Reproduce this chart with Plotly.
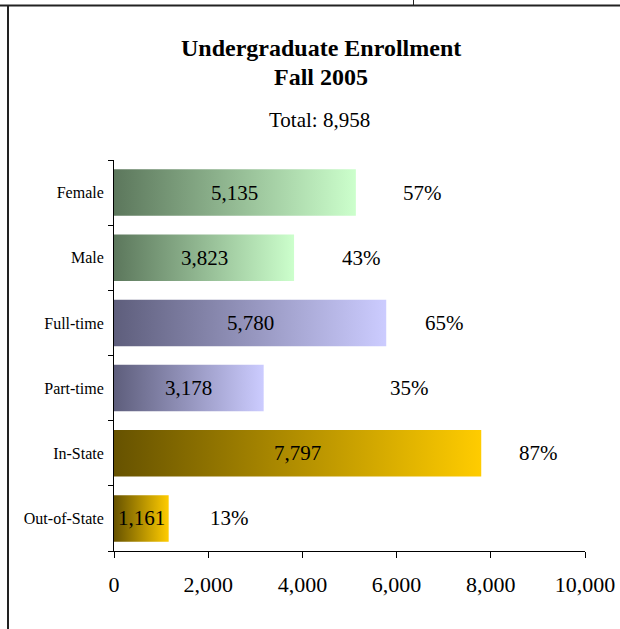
import plotly.graph_objects as go

categories = ["Female", "Male", "Full-time", "Part-time", "In-State", "Out-of-State"]
values = [5135, 3823, 5780, 3178, 7797, 1161]
percent_labels = ["57%", "43%", "65%", "35%", "87%", "13%"]
total = 8958
x_ticks = [0, 2000, 4000, 6000, 8000, 10000]

# layout-only: where the percent labels sit (data units along x)
pct_label_x = [6560, 5250, 7010, 6270, 9020, 2460]
dark_colors = ["#5c775c", "#5c775c", "#5e5e7c", "#5e5e7c", "#665200", "#665200"]
light_colors = ["#ccffcc", "#ccffcc", "#ccccff", "#ccccff", "#ffcc00", "#ffcc00"]

FONT = "Liberation Serif, Times New Roman, serif"
half = 0.357

fig = go.Figure()
for i, (cat, v) in enumerate(zip(categories, values)):
    fig.add_trace(go.Scatter(
        x=[0, v, v, 0, 0],
        y=[i - half, i - half, i + half, i + half, i - half],
        mode="lines",
        line=dict(width=0),
        fill="toself",
        fillgradient=dict(type="horizontal",
                          colorscale=[[0, dark_colors[i]], [1, light_colors[i]]]),
        name=cat,
        showlegend=False,
        hoverinfo="skip",
    ))

annotations = []
for i, v in enumerate(values):
    annotations.append(dict(x=v / 2, y=i, xref="x", yref="y", text=f"{v:,}",
                            showarrow=False, font=dict(family=FONT, size=21, color="black")))
    annotations.append(dict(x=pct_label_x[i], y=i, xref="x", yref="y", text=percent_labels[i],
                            showarrow=False, font=dict(family=FONT, size=21, color="black")))

L, R, T, B = 114, 35, 160, 78
W, H = 620, 629
pw, ph = W - L - R, H - T - B

def px(xp):
    return (xp - L) / pw

def py(yp):
    return (H - B - yp) / ph

annotations += [
    dict(x=px(320.5), y=py(48), xref="paper", yref="paper", text="<b>Undergraduate Enrollment</b>",
         showarrow=False, yanchor="middle", font=dict(family=FONT, size=24, color="black")),
    dict(x=px(320.5), y=py(77), xref="paper", yref="paper", text="<b>Fall 2005</b>",
         showarrow=False, yanchor="middle", font=dict(family=FONT, size=24, color="black")),
    dict(x=px(319), y=py(120), xref="paper", yref="paper", text=f"Total: {total:,}",
         showarrow=False, yanchor="middle", font=dict(family=FONT, size=21, color="black")),
]

shapes = [
    dict(type="line", xref="paper", yref="paper", x0=px(0), x1=px(620), y0=py(5.5), y1=py(5.5),
         line=dict(color="#222222", width=2)),
    dict(type="line", xref="paper", yref="paper", x0=px(8), x1=px(8), y0=py(5), y1=py(629),
         line=dict(color="#222222", width=2)),
    dict(type="line", xref="paper", yref="paper", x0=px(413.5), x1=px(413.5), y0=py(0), y1=py(5),
         line=dict(color="#222222", width=1)),
]

fig.update_layout(
    width=W, height=H,
    margin=dict(l=L, r=R, t=T, b=B, autoexpand=False),
    paper_bgcolor="white", plot_bgcolor="white",
    annotations=annotations,
    shapes=shapes,
    xaxis=dict(
        range=[0, 10000], tickvals=x_ticks, ticktext=[f"{t:,}" for t in x_ticks],
        showgrid=False, zeroline=False, showline=True, linecolor="black", linewidth=1,
        ticks="outside", ticklen=6, tickcolor="black", ticklabelstandoff=8, automargin=False,
        tickfont=dict(family=FONT, size=22, color="black"),
    ),
    yaxis=dict(
        range=[5.5, -0.5], tickvals=list(range(len(categories))), ticktext=categories,
        showgrid=False, zeroline=False, showline=True, linecolor="black", linewidth=1,
        ticks="outside", ticklen=6, tickcolor="rgba(0,0,0,0)", automargin=False,
        tickfont=dict(family=FONT, size=16, color="black"),
        minor=dict(tickvals=[k - 0.5 for k in range(len(categories) + 1)],
                   ticks="outside", ticklen=5, tickcolor="black", showgrid=False),
    ),
)

fig.write_html("out.html", config={"displayModeBar": False},
               post_script="document.body.style.margin='0';document.body.style.overflow='hidden';")
